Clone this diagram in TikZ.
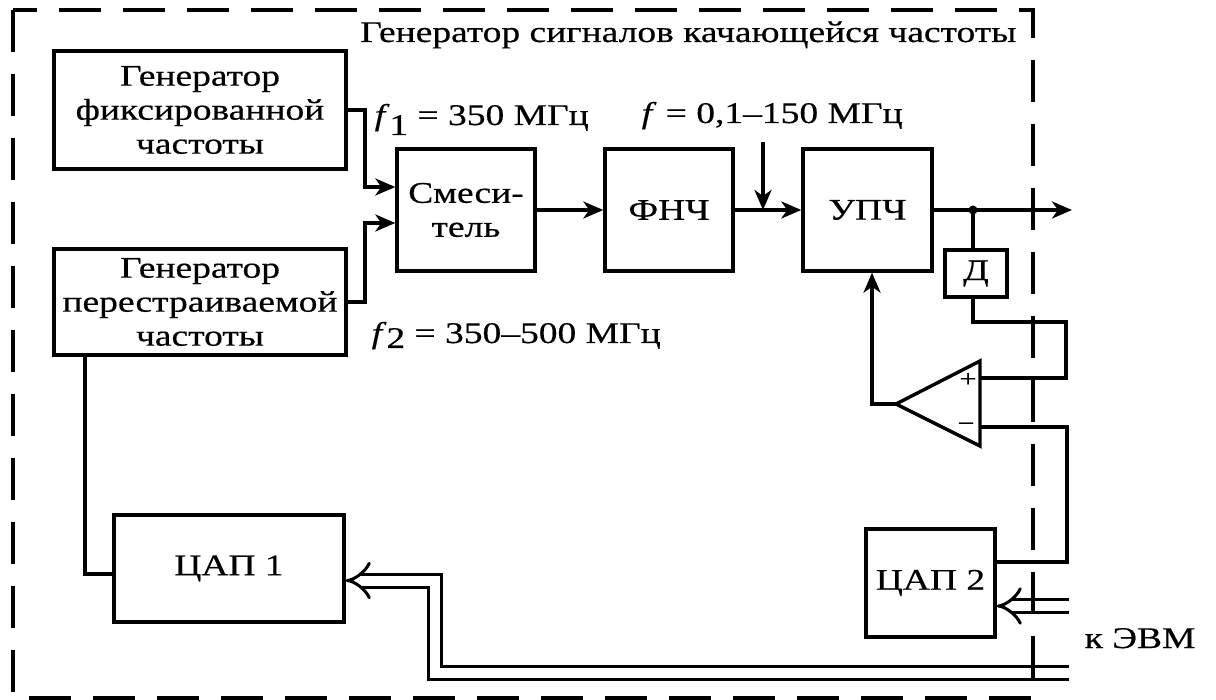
\documentclass[tikz,border=0pt]{standalone}
\usepackage{fontspec}
\setmainfont{Liberation Serif}[FakeStretch=1.25,FakeBold=0.5]
\usetikzlibrary{arrows.meta,calc}
\begin{document}
\begin{tikzpicture}[x=1pt,y=-1pt, line width=3.4pt,
  blk/.style={draw, line width=3.4pt, inner sep=0pt, align=center, font=\fontsize{30}{34}\selectfont},
  arr/.style={-{Stealth[length=20pt,width=17pt,inset=6pt]}},
  bus/.style={line width=3pt, double=white, double distance=10pt, -{Implies}},
  lbl/.style={inner sep=0pt, font=\fontsize{30}{34}\selectfont},
  sgn/.style={inner sep=0pt, font=\fontsize{24}{24}\selectfont},
  frame/.style={line width=4pt, dash pattern=on 42pt off 22pt}]
\useasboundingbox (0,0) rectangle (1216,700);
% blocks
\node[blk, minimum width=292pt, minimum height=118pt] (gf) at (200,110) {Генератор\\фиксированной\\частоты};
\node[blk, minimum width=292pt, minimum height=106pt] (gp) at (200,302) {Генератор\\перестраиваемой\\частоты};
\node[blk, minimum width=138pt, minimum height=122pt] (mix) at (466,210) {Смеси-\\тель};
\node[blk, minimum width=128pt, minimum height=122pt] (lpf) at (669,210) {ФНЧ};
\node[blk, minimum width=129pt, minimum height=122pt] (amp) at (867.5,210) {УПЧ};
\node[blk, minimum width=62pt, minimum height=47pt] (det) at (976,273.5) {Д};
\node[blk, minimum width=230pt, minimum height=107pt] (dac1) at (229,568.5) {ЦАП 1};
\node[blk, minimum width=129pt, minimum height=108pt] (dac2) at (930.5,583) {ЦАП 2};
% labels
\node[lbl, anchor=base east] (title) at (1018,42) {Генератор сигналов качающейся частоты};
\node[lbl, anchor=base west] (lf1) at (373,125) {\textit{f}\raisebox{-10pt}{1} = 350 МГц};
\node[lbl, anchor=base west] (lf) at (640,123) {\textit{f} = 0,1–150 МГц};
\node[lbl, anchor=base west] (lf2) at (370,343) {\textit{f}\raisebox{-5pt}{2} = 350–500 МГц};
\node[lbl, anchor=base west] (ev) at (1083,648) {к ЭВМ};
% comparator
\coordinate (cA) at (896,404);
\coordinate (cT) at (980,361);
\coordinate (cB) at (980,446);
\coordinate (cP) at (980,378);
\coordinate (cM) at (980,427);
\draw[line join=miter] (cT) -- (cB) -- (cA) -- cycle;
\node[sgn] (plus) at (968,380) {+};
\node[sgn] (minus) at (966,427) {−};
% connectors
\draw[arr] (gf.east) -- (365,110) |- (mix.west |- 0,187);
\draw[arr] (gp.east) -- (365,302) |- (mix.west |- 0,223);
\draw[arr] (mix) -- (lpf);
\draw[arr] (lpf) -- (amp);
\coordinate (fin) at (763,142);
\draw[arr] (fin) -- (fin |- amp.west);
\coordinate (out) at (1072,210);
\draw[arr] (amp.east) -- (out);
\coordinate (j) at (973,210);
\fill (j) circle (4.5pt);
\draw (j) -- (j |- det.north);
\draw (det.south -| j) -- (973,322) -- (1066,322) -- (1066,378) -- (cP);
\draw[arr] (cA) -- (872,404) -- (amp.south -| 872,0);
\draw (cM) -- (1067,427) -- (1067,562) -- (dac2.east |- 0,562);
\coordinate (k2) at (1069,606);
\draw[bus] (k2) -- (dac2.east |- k2);
\coordinate (k1) at (1069,672.5);
\draw[bus] (k1) -- (434.5,672.5) -- (434.5,580.5) -- (dac1.east |- 0,580.5);
\draw (gp.south -| 85,0) -- (85,574) -- (dac1.west |- 0,574);
% frame
\draw[frame] (13,10) rectangle (1033,698);
\end{tikzpicture}
\end{document}
